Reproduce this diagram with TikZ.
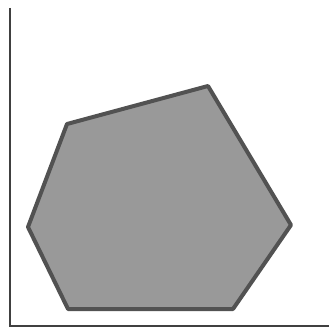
\documentclass[tikz,border=0pt]{standalone}
\usepackage{xcolor}
\usepackage{tikz}

\begin{document}
\begin{tikzpicture}[
    x=1pt, y=-1pt,
    axis/.style={draw=black!75, line width=2pt},
    region/.style={draw=black!68, fill=black!40, line width=4pt, line join=round}
]
\useasboundingbox (0,0) rectangle (329,331);

% Axes
\coordinate (top) at (10,8);
\coordinate (origin) at (10,326);
\coordinate (right) at (329,326);
\draw[axis] (top) -- (origin) -- (right);

% Feasible region (hexagon)
\coordinate (p1) at (67,124);
\coordinate (p2) at (208,86);
\coordinate (p3) at (291,225);
\coordinate (p4) at (233,309);
\coordinate (p5) at (68,309);
\coordinate (p6) at (28,227);
\filldraw[region] (p1) -- (p2) -- (p3) -- (p4) -- (p5) -- (p6) -- cycle;

\end{tikzpicture}
\end{document}
